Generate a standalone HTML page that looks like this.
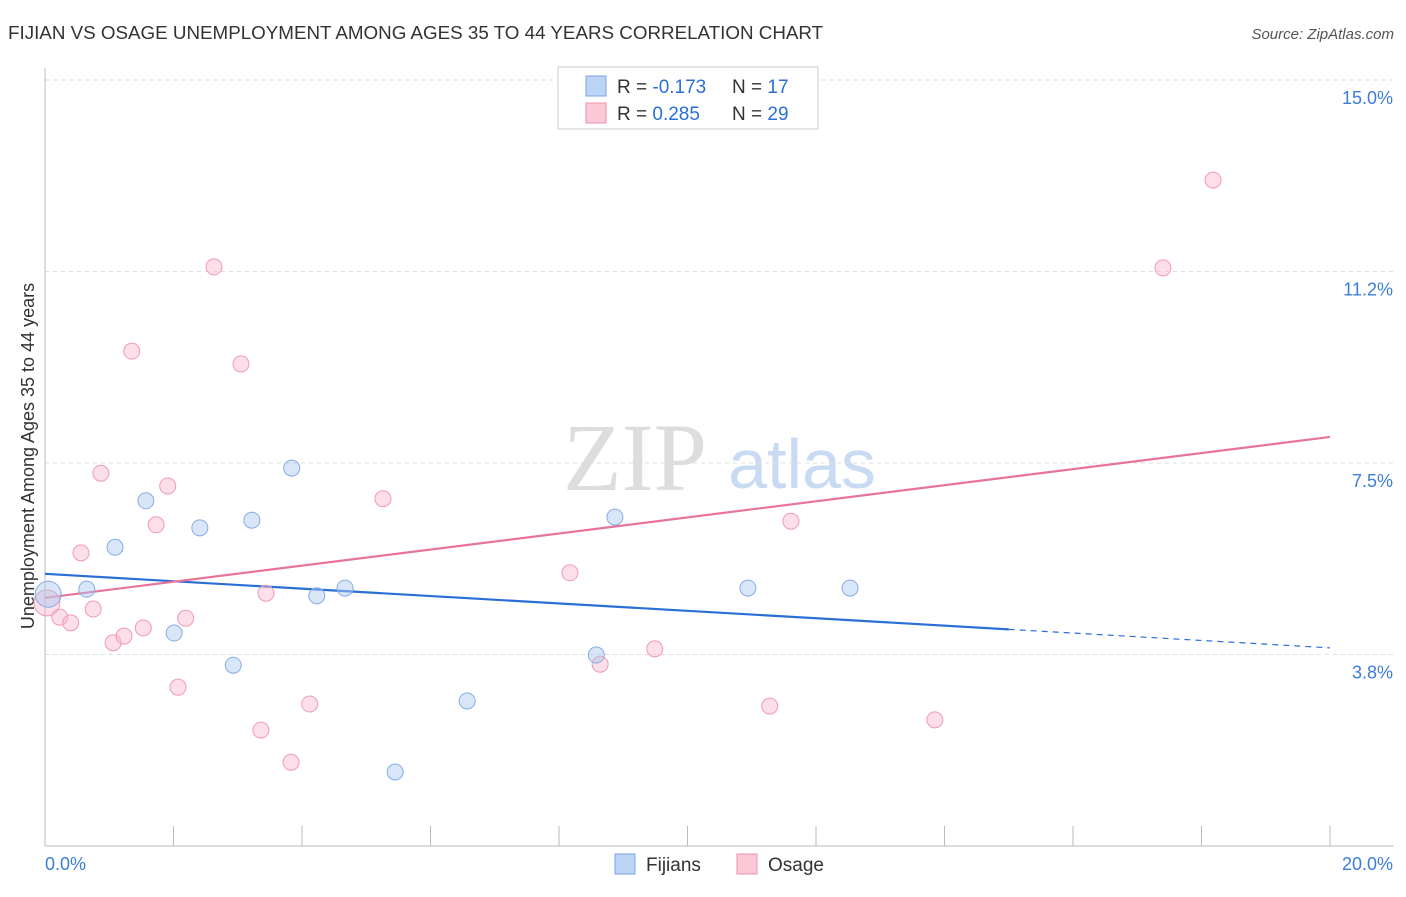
<!DOCTYPE html>
<html><head><meta charset="utf-8"><style>
body{margin:0;background:#fff;font-family:"Liberation Sans",sans-serif;}
</style></head><body>
<svg id="chart" width="1406" height="892" xmlns="http://www.w3.org/2000/svg" font-family="Liberation Sans, sans-serif">
<text x="8" y="39" font-size="18.8" fill="#333">FIJIAN VS OSAGE UNEMPLOYMENT AMONG AGES 35 TO 44 YEARS CORRELATION CHART</text>
<text x="1394" y="39" font-size="15" fill="#555" text-anchor="end" font-style="italic">Source: ZipAtlas.com</text>
<text x="635" y="490" font-size="96" fill="#ddd" text-anchor="middle" style="font-family:'Liberation Serif',serif">ZIP</text>
<text x="802" y="488" font-size="70" fill="#c9dbf3" text-anchor="middle">atlas</text>
<text transform="translate(34,456) rotate(-90)" font-size="18" fill="#333" text-anchor="middle">Unemployment Among Ages 35 to 44 years</text>
<g id="grid"></g><g id="axes"></g><g id="lines"></g><g id="points"></g>
<g>
<rect x="558" y="67" width="260" height="62" fill="#fff" stroke="#ccc"/>
<rect x="586" y="76" width="20" height="20" fill="#bcd4f5" stroke="#7aa6e0"/>
<rect x="586" y="103" width="20" height="20" fill="#fbc9d8" stroke="#ee8fae"/>
<text x="617" y="93" font-size="19" fill="#333">R = <tspan fill="#2a6fd6">-0.173</tspan></text>
<text x="732" y="93" font-size="19" fill="#333">N = <tspan fill="#2a6fd6"> 17</tspan></text>
<text x="617" y="120" font-size="19" fill="#333">R = <tspan fill="#2a6fd6"> 0.285</tspan></text>
<text x="732" y="120" font-size="19" fill="#333">N = <tspan fill="#2a6fd6">29</tspan></text>
</g>
<g>
<rect x="615" y="854" width="20" height="20" fill="#bcd4f5" stroke="#7aa6e0"/>
<text x="646" y="871" font-size="19" fill="#333">Fijians</text>
<rect x="737" y="854" width="20" height="20" fill="#fbc9d8" stroke="#ee8fae"/>
<text x="768" y="871" font-size="19" fill="#333">Osage</text>
</g>
</svg>
<script>
const fijX=[0.05,0.65,1.09,1.57,2.01,2.41,2.93,3.22,3.84,4.23,4.67,5.45,6.57,8.58,8.87,10.94,12.53];
const fijY=[4.93,5.03,5.85,6.76,4.17,6.23,3.54,6.38,7.40,4.90,5.05,1.45,2.84,3.74,6.44,5.05,5.05];
const osaX=[0.03,0.23,0.40,0.56,0.75,0.87,1.06,1.23,1.35,1.53,1.73,1.91,2.07,2.19,2.63,3.05,3.36,3.44,3.83,4.12,5.26,8.17,8.64,9.49,11.28,11.61,13.85,17.40,18.18];
const osaY=[4.76,4.48,4.37,5.74,4.64,7.30,3.98,4.11,9.69,4.27,6.29,7.05,3.11,4.46,11.34,9.44,2.27,4.95,1.64,2.78,6.80,5.35,3.56,3.86,2.74,6.36,2.47,11.32,13.04];
const fijTrend=[5.33,3.88];
const osaTrend=[4.86,8.01];
const yTicks=[3.75,7.5,11.25,15];
const yTickLabels=["3.8%","7.5%","11.2%","15.0%"];
const xTickCount=10;
const NS="http://www.w3.org/2000/svg";
const sx=v=>45+v/20*1285, sy=v=>846-v/3.75*191.5;
function mk(p,t,a){const e=document.createElementNS(NS,t);for(const k in a)e.setAttribute(k,a[k]);document.getElementById(p).appendChild(e);return e;}
yTicks.forEach((t,i)=>{
 const l=mk('grid','line',{x1:45,x2:1394,y1:sy(t),y2:sy(t),stroke:'#ddd','stroke-dasharray':'4,4'});
 
 
 const tx=mk('axes','text',{x:1393,y:sy(t)+24,'font-size':18,fill:'#3d7dd8','text-anchor':'end'});
 tx.textContent=yTickLabels[i];
 
 
});
const ax=mk('axes','line',{x1:45,x2:1394,y1:846,y2:846,stroke:'#bbb'});


const ay=mk('axes','line',{x1:45,x2:45,y1:68,y2:846,stroke:'#bbb'});


for(let i=0;i<=xTickCount;i++){const x=sx(i*20/xTickCount);
 const t=mk('axes','line',{x1:x,x2:x,y1:826,y2:846,stroke:'#bbb'});
 
 }
const xl0=mk('axes','text',{x:45,y:870,'font-size':18,fill:'#3d7dd8'});xl0.textContent='0.0%';


const xl1=mk('axes','text',{x:1393,y:870,'font-size':18,fill:'#3d7dd8','text-anchor':'end'});xl1.textContent='20.0%';


function pts(X,Y,fill,stroke,name){X.forEach((x,i)=>{const c=mk('points','circle',{cx:sx(x),cy:sy(Y[i]),r:i===0&&x<0.1?13:8,fill:fill,'fill-opacity':0.45,stroke:stroke,'stroke-width':1});
 
 });}
pts(osaX,osaY,'#f8b8cc','#f09ab6','osage-point');
pts(fijX,fijY,'#a9c8f0','#86ade4','fijian-point');
const fy=x=>fijTrend[0]+(fijTrend[1]-fijTrend[0])*x/20;
const l1=mk('lines','line',{x1:sx(0),y1:sy(fy(0)),x2:sx(15),y2:sy(fy(15)),stroke:'#2a6fd6','stroke-width':2.2});


const l2=mk('lines','line',{x1:sx(15),y1:sy(fy(15)),x2:sx(20),y2:sy(fy(20)),stroke:'#2a6fd6','stroke-width':1.2,'stroke-dasharray':'6,5'});


const l3=mk('lines','line',{x1:sx(0),y1:sy(osaTrend[0]),x2:sx(20),y2:sy(osaTrend[1]),stroke:'#e8739b','stroke-width':2.2});


</script>
</body></html>
